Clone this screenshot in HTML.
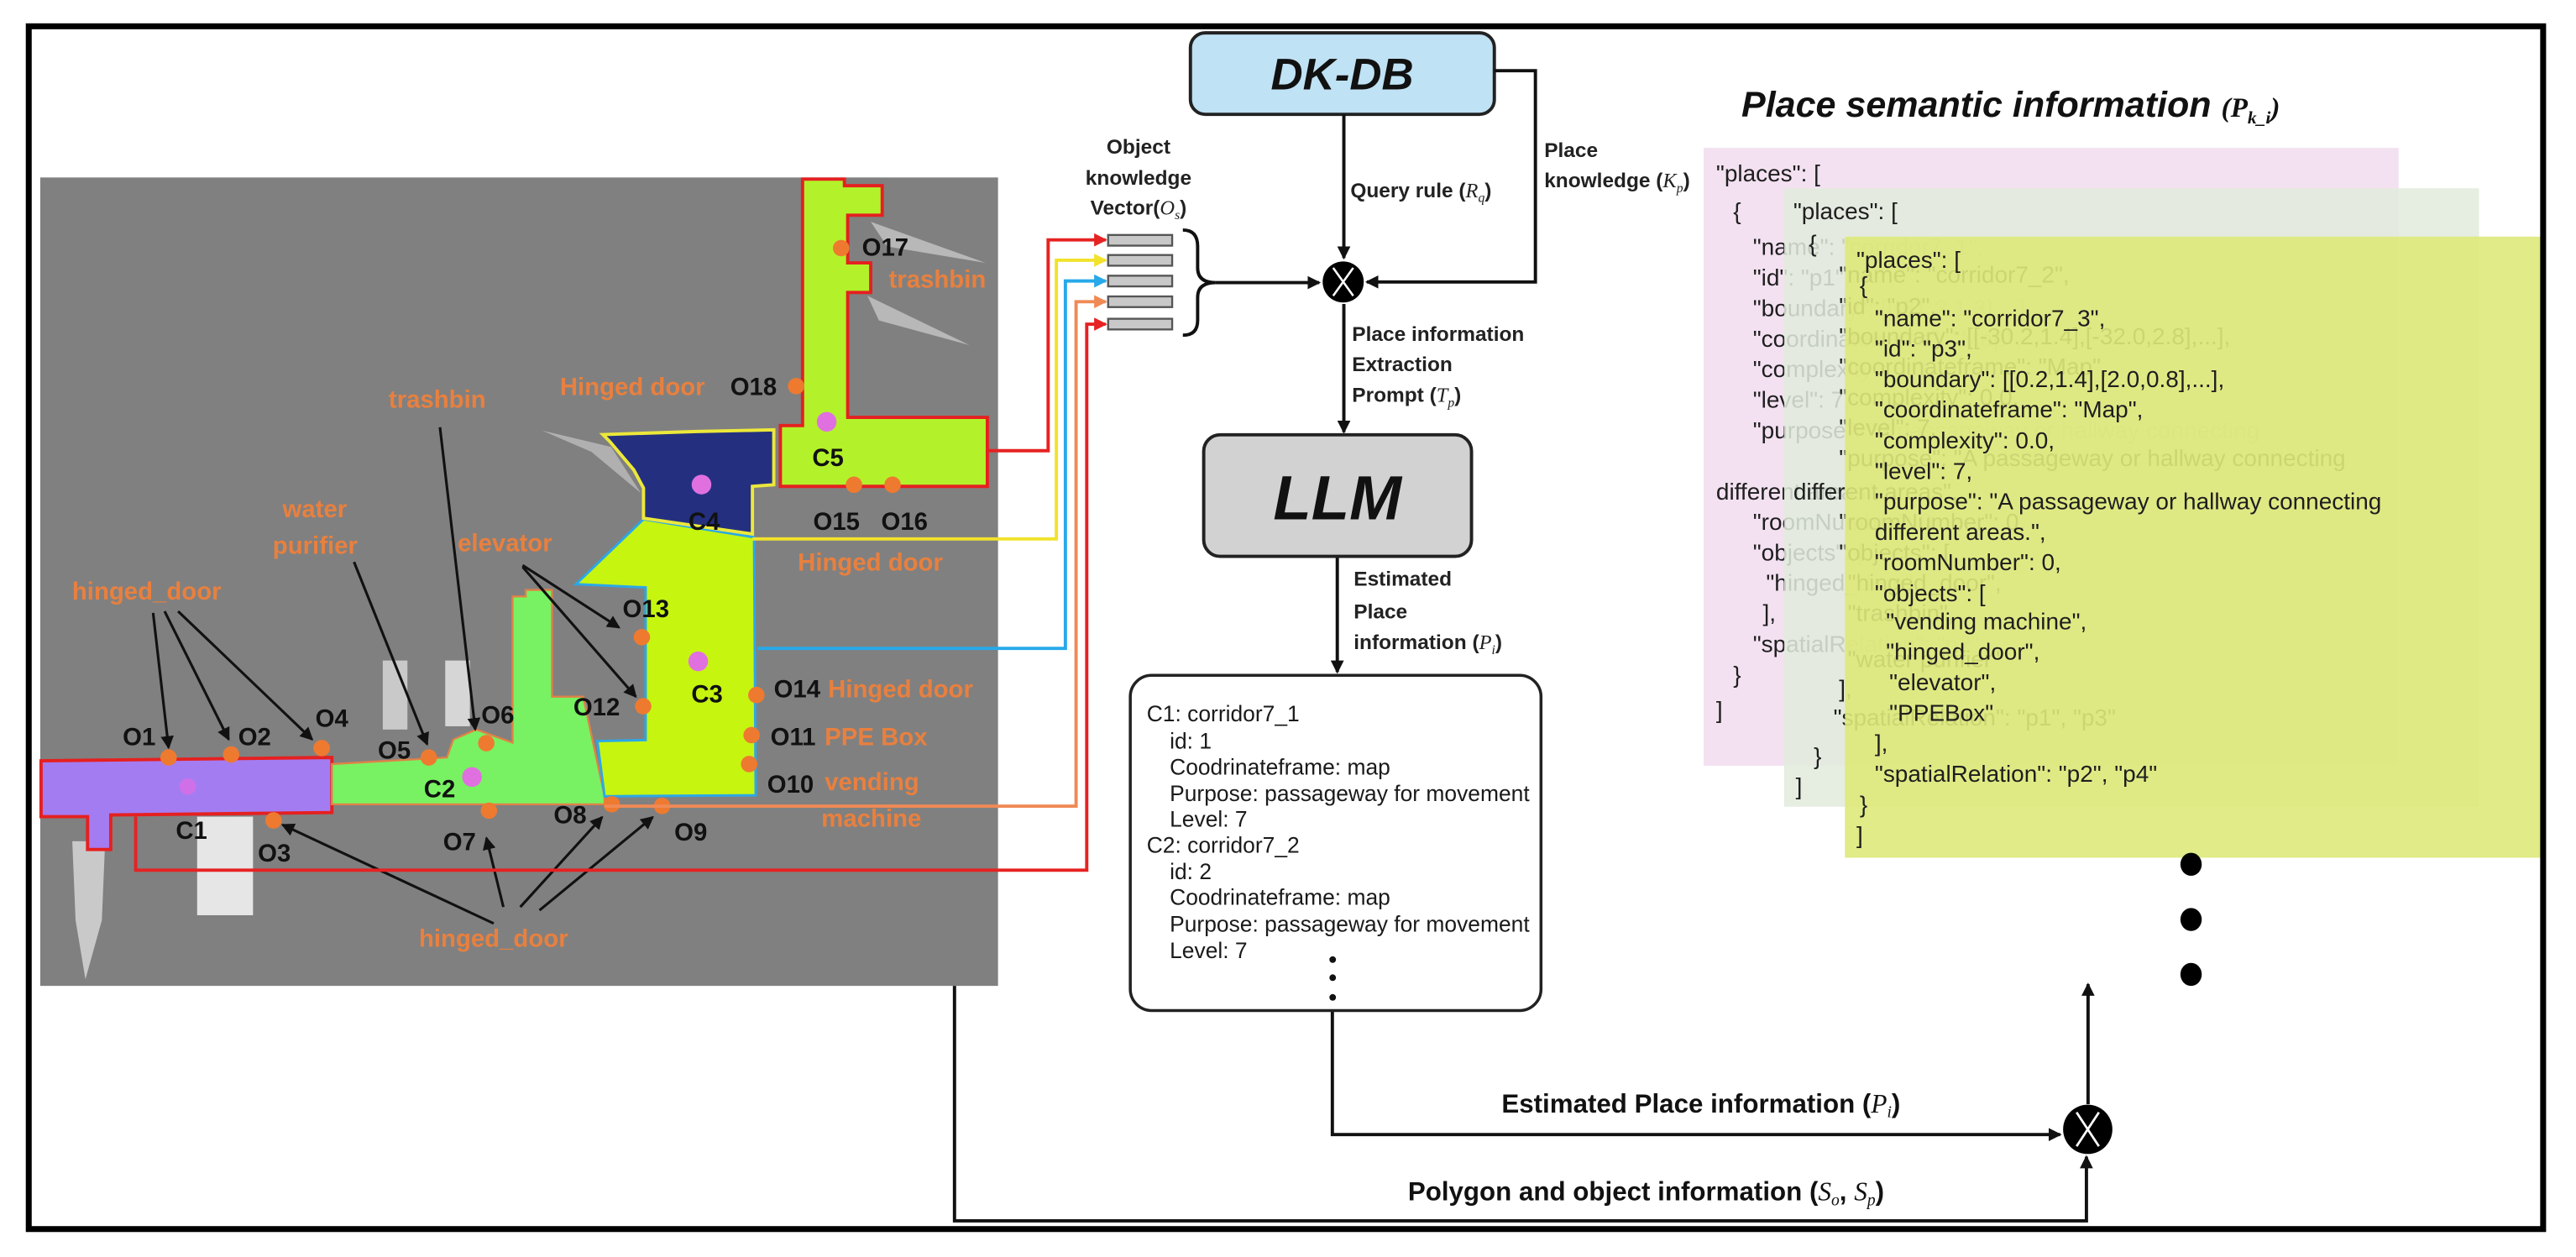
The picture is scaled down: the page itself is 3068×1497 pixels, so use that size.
<!DOCTYPE html>
<html><head><meta charset="utf-8"><style>
html,body{margin:0;padding:0;background:#fff;}
svg{display:block;}
.lbl{font-family:"Liberation Sans",sans-serif;font-size:12.5px;font-weight:bold;fill:#222;}
.mi{font-family:"Liberation Serif",serif;font-style:italic;font-weight:normal;}
.box{font-family:"Liberation Sans",sans-serif;font-size:13.5px;fill:#1a1a1a;}
.js{font-family:"Liberation Sans",sans-serif;font-size:14.3px;fill:#1e1e1e;}
.ob{font-family:"Liberation Sans",sans-serif;font-size:15px;font-weight:bold;fill:#111;}
.or{font-family:"Liberation Sans",sans-serif;font-size:15px;font-weight:bold;fill:#e8803f;}
</style></head><body>
<svg width="3068" height="1497" viewBox="0 0 1568 765" preserveAspectRatio="none" xmlns="http://www.w3.org/2000/svg">
<defs>
<marker id="ak" markerWidth="8" markerHeight="8" refX="7" refY="4" orient="auto" markerUnits="userSpaceOnUse"><path d="M0,0 L8,4 L0,8 z" fill="#111"/></marker>
<marker id="ar" markerWidth="8" markerHeight="8" refX="7" refY="4" orient="auto" markerUnits="userSpaceOnUse"><path d="M0,0 L8,4 L0,8 z" fill="#e62222"/></marker>
<marker id="ay" markerWidth="8" markerHeight="8" refX="7" refY="4" orient="auto" markerUnits="userSpaceOnUse"><path d="M0,0 L8,4 L0,8 z" fill="#f2e22a"/></marker>
<marker id="ab" markerWidth="8" markerHeight="8" refX="7" refY="4" orient="auto" markerUnits="userSpaceOnUse"><path d="M0,0 L8,4 L0,8 z" fill="#27a9ea"/></marker>
<marker id="ao" markerWidth="8" markerHeight="8" refX="7" refY="4" orient="auto" markerUnits="userSpaceOnUse"><path d="M0,0 L8,4 L0,8 z" fill="#ef8a55"/></marker>
</defs>
<rect width="1568" height="765" fill="#fff"/>

<!-- MAP -->
<rect x="24.5" y="108" width="583" height="492" fill="#808080"/>
<rect x="233" y="402" width="15" height="42" fill="#c9c9c9"/>
<rect x="271" y="402" width="15" height="40" fill="#d6d6d6"/>
<rect x="120" y="497" width="34" height="60" fill="#e6e6e6"/>
<path d="M44,512 L64,512 L62,560 L52,596 L46,560 z" fill="#c9c9c9"/>
<path d="M530,135 L600,160 L540,150 z M528,180 L590,210 L535,195 z" fill="#b8b8b8"/>
<path d="M330,262 L372,272 L390,300 L360,275 z" fill="#b0b0b0"/>

<polygon points="25,463 202,461 202,494.5 67.4,496 67.4,517 53.3,517 53.3,497 25,497" fill="#a47cf2" stroke="#e52020" stroke-width="2"/>
<polygon points="202,465 272,461 276,450 290,444 312,452 312,363 320,363 320,359 336,359 336,424 355,424 368,484.6 368,489.5 202,489.5" fill="#78f262" stroke="#e08048" stroke-width="1.2"/>
<polygon points="391.7,316 459,327 460,484 368,484.6 363.6,451 393,450.4 393,357.5 350.6,355.5" fill="#c6f510" stroke="#2aa8e8" stroke-width="1.5"/>
<polygon points="367,264.5 424,262.6 471,261.6 471,295 458,296 458,325 391.7,315.4 391.7,297 385.8,286 371,268.5" fill="#24307f" stroke="#ece83a" stroke-width="2"/>
<polygon points="488.5,109 514,109 514,113 537,113 537,131 516,131 516,160 530,160 530,178 516,178 516,254 601,254 601,296 475,296 475,259 488.5,259" fill="#b3f22a" stroke="#e52020" stroke-width="2"/>

<!-- dots -->
<g fill="#ee7a30">
<circle cx="512" cy="151" r="5"/><circle cx="484.6" cy="235" r="5"/><circle cx="519.8" cy="295" r="5"/><circle cx="543.3" cy="295" r="5"/>
<circle cx="390.7" cy="387.8" r="5"/><circle cx="391.5" cy="429.8" r="5"/><circle cx="460.4" cy="423" r="5"/><circle cx="457.5" cy="447.4" r="5"/><circle cx="456" cy="465" r="5"/>
<circle cx="372.4" cy="489.5" r="5"/><circle cx="403" cy="490.5" r="5"/><circle cx="297.6" cy="493.4" r="5"/><circle cx="166.5" cy="499.3" r="5"/>
<circle cx="102.6" cy="461" r="5"/><circle cx="140.7" cy="459.2" r="5"/><circle cx="195.8" cy="455.3" r="5"/><circle cx="261" cy="461" r="5"/><circle cx="296" cy="452.3" r="5"/>
</g>
<g fill="#e070e0"><circle cx="503.2" cy="256.7" r="6"/><circle cx="427" cy="294.9" r="6"/><circle cx="425" cy="402.5" r="6"/><circle cx="287.3" cy="472.9" r="6"/><circle cx="114.3" cy="478.7" r="5" fill="#d070e8"/></g>

<!-- map arrows -->
<g stroke="#111" stroke-width="1.6" fill="none" marker-end="url(#ak)">
<path d="M93.2,373 L102.6,455"/><path d="M100.2,372 L139.2,450"/><path d="M108.4,372 L190,450"/>
<path d="M215.5,342 L260,453"/><path d="M267.8,260 L289.3,444"/>
<path d="M318.1,344 L376.8,381.9"/><path d="M318.1,345 L387,424"/>
<path d="M300.5,562 L172,502"/><path d="M306.4,552 L296.1,510"/><path d="M316.7,552 L366.5,497.3"/><path d="M328.4,554 L397.3,497.3"/>
</g>

<!-- map labels -->
<g class="ob">
<text x="524.7" y="155.5">O17</text><text x="444.5" y="240.5">O18</text><text x="494.4" y="283.5">C5</text>
<text x="419" y="322.5">C4</text><text x="495" y="322.5">O15</text><text x="536.4" y="322.5">O16</text>
<text x="379" y="375.5">O13</text><text x="420.8" y="427.5">C3</text><text x="349" y="435.3">O12</text>
<text x="471" y="424.5">O14</text><text x="469" y="453.5">O11</text><text x="467" y="482.5">O10</text>
<text x="337" y="501">O8</text><text x="410.5" y="511.5">O9</text><text x="269.7" y="517.5">O7</text>
<text x="258" y="485.2">C2</text><text x="293" y="440.2">O6</text><text x="230" y="461.7">O5</text>
<text x="192" y="442.2">O4</text><text x="145" y="453.5">O2</text><text x="74.7" y="453.5">O1</text>
<text x="107" y="510.5">C1</text><text x="157" y="524.3">O3</text>
</g>
<g class="or">
<text x="541" y="175">trashbin</text><text x="340.8" y="240.5">Hinged door</text><text x="485.6" y="347.3">Hinged door</text>
<text x="504" y="424.5">Hinged door</text><text x="502" y="453.5">PPE Box</text><text x="502" y="481">vending</text><text x="500" y="503">machine</text>
<text x="43.9" y="364.9">hinged_door</text><text x="172" y="314.9">water</text><text x="166" y="337.1">purifier</text>
<text x="236.6" y="248.2">trashbin</text><text x="278.6" y="335.5">elevator</text><text x="255" y="576.2">hinged_door</text>
</g>

<!-- colored connectors -->
<g fill="none" stroke-width="2">
<path d="M602,274.3 H638 V146 H673" stroke="#e62222" marker-end="url(#ar)"/>
<path d="M458,328 H643 V158.4 H673" stroke="#f2e22a" marker-end="url(#ay)"/>
<path d="M461,394.6 H648.5 V171 H673" stroke="#27a9ea" marker-end="url(#ab)"/>
<path d="M368,490.6 H655 V183.6 H673" stroke="#ef8a55" marker-end="url(#ao)"/>
<path d="M82.6,497 V529.6 H661.5 V197.3 H673" stroke="#e62222" marker-end="url(#ar)"/>
</g>

<!-- vector bars -->
<g fill="#c8c8c8" stroke="#555" stroke-width="1.2">
<rect x="674.5" y="143" width="39" height="6.5"/><rect x="674.5" y="155.2" width="39" height="6.5"/><rect x="674.5" y="167.8" width="39" height="6.5"/><rect x="674.5" y="180.4" width="39" height="6.5"/><rect x="674.5" y="194" width="39" height="6.5"/>
</g>
<path d="M720,140 Q729,140 729,150 V163 Q729,172 740,172 Q729,172 729,181 V195 Q729,204 720,204" fill="none" stroke="#111" stroke-width="2"/>
<text class="lbl" x="693" y="93.5" text-anchor="middle">Object</text>
<text class="lbl" x="693" y="112.5" text-anchor="middle">knowledge</text>
<text class="lbl" x="693" y="130.5" text-anchor="middle">Vector(<tspan class="mi">O</tspan><tspan class="mi" font-size="8" dy="3">s</tspan><tspan dy="-3">)</tspan></text>

<!-- DK-DB -->
<rect x="724.6" y="20" width="185" height="49.6" rx="9" fill="#bfe2f4" stroke="#222" stroke-width="2"/>
<text x="817" y="54.5" text-anchor="middle" font-family="Liberation Sans,sans-serif" font-size="27" font-weight="bold" font-style="italic" fill="#111">DK-DB</text>
<g stroke="#111" stroke-width="2" fill="none">
<path d="M818,69.6 V157" marker-end="url(#ak)"/>
<path d="M909.6,43 H934.6 V171.6 H832" marker-end="url(#ak)"/>
<path d="M740,172 H803" marker-end="url(#ak)"/>
<path d="M818,185 V263" marker-end="url(#ak)"/>
<path d="M814,339 V409" marker-end="url(#ak)"/>
<path d="M811,615 V690.5 H1254" marker-end="url(#ak)"/>
<path d="M581,600 V743 H1270 V704" marker-end="url(#ak)"/>
<path d="M1271,672 V599" marker-end="url(#ak)"/>
</g>
<circle cx="817.6" cy="171.6" r="12.5" fill="#000"/>
<path d="M811.5,163 L823.7,180 M823.7,163 L811.5,180" stroke="#fff" stroke-width="1.3"/>
<circle cx="1270.8" cy="687.3" r="15" fill="#000"/>
<path d="M1264,677 L1277.6,697.6 M1277.6,677 L1264,697.6" stroke="#fff" stroke-width="1.4"/>

<text class="lbl" x="822" y="120">Query rule (<tspan class="mi">R</tspan><tspan class="mi" font-size="8" dy="3">q</tspan><tspan dy="-3">)</tspan></text>
<text class="lbl" x="940" y="95.5">Place</text>
<text class="lbl" x="940" y="114">knowledge (<tspan class="mi">K</tspan><tspan class="mi" font-size="8" dy="3">p</tspan><tspan dy="-3">)</tspan></text>
<text class="lbl" x="823" y="207.5">Place information</text>
<text class="lbl" x="823" y="226">Extraction</text>
<text class="lbl" x="823" y="244.5">Prompt (<tspan class="mi">T</tspan><tspan class="mi" font-size="8" dy="3">p</tspan><tspan dy="-3">)</tspan></text>

<!-- LLM -->
<rect x="732.7" y="264.6" width="163" height="74" rx="10" fill="#d2d2d2" stroke="#222" stroke-width="2"/>
<text x="814" y="316" text-anchor="middle" font-family="Liberation Sans,sans-serif" font-size="38" font-weight="bold" font-style="italic" fill="#111">LLM</text>
<text class="lbl" x="824" y="356.5">Estimated</text>
<text class="lbl" x="824" y="376.5">Place</text>
<text class="lbl" x="824" y="395">information (<tspan class="mi">P</tspan><tspan class="mi" font-size="8" dy="3">i</tspan><tspan dy="-3">)</tspan></text>

<!-- text box -->
<rect x="688" y="411" width="250" height="204" rx="13" fill="#fff" stroke="#222" stroke-width="1.8"/>
<g class="box">
<text x="698" y="439">C1: corridor7_1</text>
<text x="712" y="455.5">id: 1</text>
<text x="712" y="471.4">Coodrinateframe: map</text>
<text x="712" y="487.5">Purpose: passageway for movement</text>
<text x="712" y="503">Level: 7</text>
<text x="698" y="519">C2: corridor7_2</text>
<text x="712" y="535">id: 2</text>
<text x="712" y="550.5">Coodrinateframe: map</text>
<text x="712" y="567">Purpose: passageway for movement</text>
<text x="712" y="583">Level: 7</text>
</g>
<g fill="#111"><circle cx="811.2" cy="584" r="2"/><circle cx="811.2" cy="595" r="2"/><circle cx="811.2" cy="607" r="2"/></g>

<text x="914" y="677" font-family="Liberation Sans,sans-serif" font-size="16" font-weight="bold" fill="#111">Estimated Place information (<tspan font-family="Liberation Serif,serif" font-style="italic" font-weight="normal">P</tspan><tspan font-family="Liberation Serif,serif" font-style="italic" font-weight="normal" font-size="10" dy="3">i</tspan><tspan dy="-3">)</tspan></text>
<text x="857" y="730.5" font-family="Liberation Sans,sans-serif" font-size="16" font-weight="bold" fill="#111">Polygon and object information (<tspan font-family="Liberation Serif,serif" font-style="italic" font-weight="normal">S</tspan><tspan font-family="Liberation Serif,serif" font-style="italic" font-weight="normal" font-size="10" dy="3">o</tspan><tspan dy="-3">, </tspan><tspan font-family="Liberation Serif,serif" font-style="italic" font-weight="normal">S</tspan><tspan font-family="Liberation Serif,serif" font-style="italic" font-weight="normal" font-size="10" dy="3">p</tspan><tspan dy="-3">)</tspan></text>

<!-- title -->
<text x="1060" y="71" font-family="Liberation Sans,sans-serif" font-size="22" font-weight="bold" font-style="italic" fill="#111">Place semantic information <tspan font-family="Liberation Serif,serif" font-size="17">(P</tspan><tspan font-family="Liberation Serif,serif" font-size="11" dy="4">k_i</tspan><tspan font-family="Liberation Serif,serif" font-size="17" dy="-4">)</tspan></text>

<!-- panel 1 -->
<rect x="1037" y="90" width="423" height="376" fill="#f3e1f1"/>
<g class="js">
<text x="1044.6" y="110.3">"places": [</text>
<text x="1055" y="133.5">{</text>
<text x="1067" y="155">"name": "corridor7_1",</text>
<text x="1067" y="173.8">"id": "p1",</text>
<text x="1067" y="192.4">"boundary": [[-31.2,1.3],...],</text>
<text x="1067" y="211">"coordinateframe": "Map",</text>
<text x="1067" y="229.5">"complexity": 0.0,</text>
<text x="1067" y="248">"level": 7,</text>
<text x="1067" y="266.7">"purpose": "A passageway or hallway connecting</text>
<text x="1044.6" y="304">different areas",</text>
<text x="1067" y="322.5">"roomNumber": 0,</text>
<text x="1067" y="341">"objects": [</text>
<text x="1075" y="359.6">"hinged_door"</text>
<text x="1073" y="378">],</text>
<text x="1067" y="396.8">"spatialRelation": "p2"</text>
<text x="1055" y="415.4">}</text>
<text x="1044.6" y="437">]</text>
</g>

<!-- panel 2 -->
<rect x="1086" y="114.6" width="423" height="376.4" fill="#e1ebdc" fill-opacity="0.86"/>
<g class="js">
<text x="1091.6" y="133.5">"places": [</text>
<text x="1101" y="153">{</text>
<text x="1119.4" y="172">"name": "corridor7_2",</text>
<text x="1119.4" y="191">"id": "p2",</text>
<text x="1119.4" y="209.5">"boundary": [[-30.2,1.4],[-32.0,2.8],...],</text>
<text x="1119.4" y="228">"coordinateframe": "Map",</text>
<text x="1119.4" y="246.6">"complexity": 0.0,</text>
<text x="1119.4" y="265">"level": 7,</text>
<text x="1119.4" y="283.7">"purpose": "A passageway or hallway connecting</text>
<text x="1091.6" y="304">different areas",</text>
<text x="1119.4" y="322.5">"roomNumber": 0,</text>
<text x="1119.4" y="341">"objects": [</text>
<text x="1124.7" y="359.6">"hinged_door",</text>
<text x="1124.7" y="378">"trashbin",</text>
<text x="1124.7" y="406">"water purifier"</text>
<text x="1119.4" y="424">],</text>
<text x="1116" y="441.6">"spatialRelation": "p1", "p3"</text>
<text x="1104" y="465">}</text>
<text x="1093" y="483.5">]</text>
</g>

<!-- panel 3 -->
<rect x="1123" y="144" width="425" height="378" fill="#dee97a" fill-opacity="0.9"/>
<g class="js">
<text x="1130" y="163">"places": [</text>
<text x="1132" y="178.4">{</text>
<text x="1141.2" y="198.6">"name": "corridor7_3",</text>
<text x="1141.2" y="217">"id": "p3",</text>
<text x="1141.2" y="235.7">"boundary": [[0.2,1.4],[2.0,0.8],...],</text>
<text x="1141.2" y="254">"coordinateframe": "Map",</text>
<text x="1141.2" y="273">"complexity": 0.0,</text>
<text x="1141.2" y="291.5">"level": 7,</text>
<text x="1141.2" y="310">"purpose": "A passageway or hallway connecting</text>
<text x="1141.2" y="328.6">different areas.",</text>
<text x="1141.2" y="347">"roomNumber": 0,</text>
<text x="1141.2" y="366">"objects": [</text>
<text x="1148" y="383">"vending machine",</text>
<text x="1148" y="401.5">"hinged_door",</text>
<text x="1150" y="420">"elevator",</text>
<text x="1150" y="438.6">"PPEBox"</text>
<text x="1141.2" y="457">],</text>
<text x="1141.2" y="475.8">"spatialRelation": "p2", "p4"</text>
<text x="1132" y="494.3">}</text>
<text x="1130" y="513">]</text>
</g>

<g fill="#000"><ellipse cx="1333.7" cy="526" rx="6.5" ry="7"/><ellipse cx="1333.7" cy="559.6" rx="6.5" ry="7"/><ellipse cx="1333.7" cy="593" rx="6.5" ry="7"/></g>

<!-- outer border -->
<rect x="17.5" y="16" width="1530.5" height="732" fill="none" stroke="#000" stroke-width="3.6"/>
</svg>
</body></html>
